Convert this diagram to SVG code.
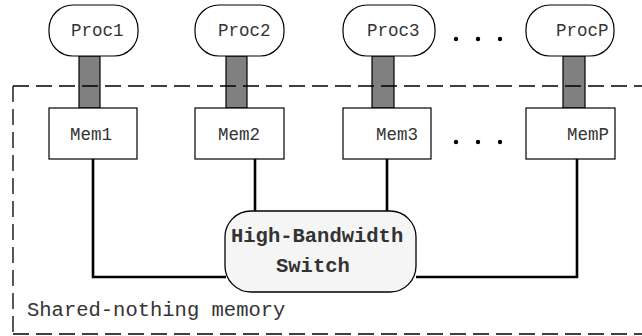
<svg xmlns="http://www.w3.org/2000/svg" width="642" height="336" viewBox="0 0 642 336">
<defs>
<style>
.proc{fill:#fff;stroke:#000;stroke-width:1.2}
.mem{fill:#fff;stroke:#000;stroke-width:1.2}
.bar{fill:#808080;stroke:#000;stroke-width:1.2}
.lbl{font-family:"Liberation Mono","Courier New",monospace;font-size:17.5px;fill:#333}
.big{font-family:"Liberation Mono","Courier New",monospace;font-size:20.5px;fill:#333}
.conn{fill:none;stroke:#000;stroke-width:2.6}
.dash{fill:none;stroke:#000;stroke-width:1.3;stroke-dasharray:16 7}
.dot{fill:#000}
</style>
</defs>
<rect width="642" height="336" fill="#fff"/>
<g id="bars">
<rect class="bar" x="79" y="56" width="21" height="52"/>
<rect class="bar" x="226" y="56" width="21" height="52"/>
<rect class="bar" x="372" y="56" width="22" height="52"/>
<rect class="bar" x="563" y="56" width="22" height="52"/>
</g>
<g id="connectors">
<path class="conn" d="M93,159 V277 H226"/>
<path class="conn" d="M255,159 V211"/>
<path class="conn" d="M387,159 V211"/>
<path class="conn" d="M577,159 V277 H416"/>
</g>
<g id="proc1"><rect class="proc" x="49" y="5" width="89" height="51" rx="24"/><text class="lbl" x="71" y="36">Proc1</text></g>
<g id="proc2"><rect class="proc" x="195" y="5" width="89" height="51" rx="24"/><text class="lbl" x="218" y="36">Proc2</text></g>
<g id="proc3"><rect class="proc" x="343" y="5" width="92" height="51" rx="24"/><text class="lbl" x="367" y="36">Proc3</text></g>
<g id="procP"><rect class="proc" x="526" y="5" width="88" height="51" rx="24"/><text class="lbl" x="556" y="36">ProcP</text></g>
<g id="mem1"><rect class="mem" x="49" y="108" width="88" height="51"/><text class="lbl" x="70" y="140">Mem1</text></g>
<g id="mem2"><rect class="mem" x="195" y="108" width="89" height="51"/><text class="lbl" x="218" y="140">Mem2</text></g>
<g id="mem3"><rect class="mem" x="343" y="108" width="88" height="51"/><text class="lbl" x="376" y="140">Mem3</text></g>
<g id="memP"><rect class="mem" x="526" y="108" width="89" height="51"/><text class="lbl" x="567" y="140">MemP</text></g>
<g id="switch"><rect x="225" y="211" width="191" height="81" rx="26" fill="#f5f5f5" stroke="#000" stroke-width="1.3"/>
<text class="big" x="231" y="242" font-weight="bold">High-Bandwidth</text>
<text class="big" x="276" y="272" font-weight="bold">Switch</text></g>
<g id="dots">
<circle class="dot" cx="456" cy="39" r="2.2"/><circle class="dot" cx="478" cy="39" r="2.2"/><circle class="dot" cx="500" cy="39" r="2.2"/>
<circle class="dot" cx="456" cy="142" r="2.2"/><circle class="dot" cx="478" cy="142" r="2.2"/><circle class="dot" cx="500" cy="142" r="2.2"/>
</g>
<g id="shared-nothing-region">
<line class="dash" x1="13" y1="86" x2="642" y2="86"/>
<line class="dash" x1="13" y1="86" x2="13" y2="334"/>
<line class="dash" x1="13" y1="334" x2="642" y2="334"/>
<text class="big" x="27" y="316">Shared-nothing memory</text>
</g>
</svg>
